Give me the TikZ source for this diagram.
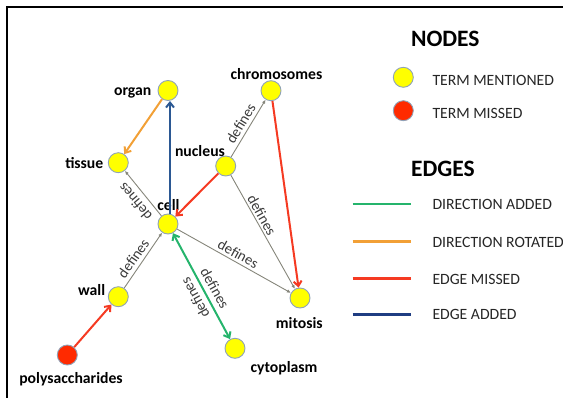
\documentclass[tikz,border=0pt]{standalone}
\usepackage{fontspec}
\setmainfont{Carlito}
\usetikzlibrary{arrows.meta}
\definecolor{termyellow}{HTML}{FFFF00}
\definecolor{termred}{HTML}{FF2A00}
\definecolor{ringc}{HTML}{8FA2B8}
\definecolor{edgegray}{HTML}{85857A}
\definecolor{defgray}{HTML}{3A3A3A}
\definecolor{egreen}{HTML}{25B46C}
\definecolor{eorange}{HTML}{F2A036}
\definecolor{ered}{HTML}{F53A22}
\definecolor{eblue}{HTML}{2B5893}
\definecolor{lblue}{HTML}{1F3D82}
\begin{document}
\begin{tikzpicture}[x=1pt,y=-1pt,
  term/.style={circle,fill=termyellow,draw=ringc,line width=0.9pt,minimum size=20pt,inner sep=0pt},
  miss/.style={term,fill=termred},
  lbl/.style={font=\fontsize{15.7}{15.7}\selectfont\bfseries,inner sep=0pt,anchor=base},
  deflbl/.style={font=\fontsize{14.8}{14.8}\selectfont,text=defgray,inner sep=0pt},
  title/.style={font=\fontsize{23.5}{23.5}\selectfont\bfseries,inner sep=0pt,anchor=base},
  legtxt/.style={font=\fontsize{15.7}{15.7}\selectfont,inner sep=0pt,anchor=base west,text=black!85},
  grayedge/.style={draw=edgegray,line width=0.9pt,-{Latex[length=4pt,width=3.5pt]}},
  coledge/.style={line width=2pt,-{Straight Barb[length=5pt,width=8pt]}},
  legline/.style={line width=2.6pt}]
\useasboundingbox (0,0) rectangle (563,398);
\draw[line width=2pt] (7,398) -- (7,7.5) -- (563,7.5);

% graph nodes
\node[term] (organ) at (168,90.5) {};
\node[term] (tissue) at (118.3,162.7) {};
\node[term] (nucleus) at (225.7,166) {};
\node[term] (chrom) at (271,90.7) {};
\node[term] (cell) at (168,224) {};
\node[term] (wall) at (118.3,296.7) {};
\node[term] (mitosis) at (300,298) {};
\node[term] (cyto) at (235,348.3) {};
\node[miss] (poly) at (67.3,355) {};

% labels
\node[lbl] (organ-l) at (132.7,96) {organ};
\node[lbl] (tissue-l) at (84.3,168.3) {tissue};
\node[lbl] (nucleus-l) at (200,156.7) {nucleus};
\node[lbl] (chrom-l) at (276.5,80) {chromosomes};
\node[lbl] (cell-l) at (168.5,211) {cell};
\node[lbl] (wall-l) at (91.7,295.7) {wall};
\node[lbl] (mitosis-l) at (299.3,328.3) {mitosis};
\node[lbl] (cyto-l) at (284,372.7) {cytoplasm};
\node[lbl] (poly-l) at (71,384) {polysaccharides};

% gray edges
\draw[grayedge] (cell) -- (tissue);
\draw[grayedge] (wall) -- (cell);
\draw[grayedge] (nucleus) -- (chrom);
\draw[grayedge] (nucleus) -- (mitosis);
\draw[grayedge] (cell) -- (mitosis);

% coloured edges
\draw[coledge,draw=eorange] (organ) -- (tissue);
\draw[coledge,draw=eblue] ([xshift=2pt]cell.north) -- ([xshift=2pt]organ.south);
\draw[coledge,draw=ered] (nucleus) -- (cell);
\draw[coledge,draw=ered] (chrom) -- (mitosis);
\draw[coledge,draw=ered] (poly) -- (wall);
\draw[coledge,draw=egreen,{Straight Barb[length=5pt,width=8pt]}-{Straight Barb[length=5pt,width=8pt]}] (cell) -- (cyto);

% defines labels
\node[deflbl,rotate=130] (d1) at (135,201.7) {defines};
\node[deflbl,rotate=55] (d2) at (133.3,258.3) {defines};
\node[deflbl,rotate=59] (d3) at (240.7,123.3) {defines};
\node[deflbl,rotate=-60.7] (d4) at (262,215) {defines};
\node[deflbl,rotate=-28.8] (d5) at (238.3,254) {defines};
\node[deflbl,rotate=-61] (d6) at (215,288.3) {defines};
\node[deflbl,rotate=119] (d7) at (195,298.3) {defines};

% legend
\node[title] (nodes-t) at (445.3,46.7) {NODES};
\node[term] (leg-y) at (403.3,77.3) {};
\node[miss] (leg-r) at (403.3,110.7) {};
\node[legtxt] (leg-y-t) at (432.3,85.7) {TERM MENTIONED};
\node[legtxt] (leg-r-t) at (432.3,119) {TERM MISSED};

\node[title] (edges-t) at (443,176.7) {EDGES};
\coordinate (g1) at (352.7,204); \coordinate (g2) at (410.7,204);
\coordinate (o1) at (352.7,241.7); \coordinate (o2) at (410.7,241.7);
\coordinate (r1) at (352.7,278.3); \coordinate (r2) at (410.7,278.3);
\coordinate (b1) at (352.7,314.3); \coordinate (b2) at (410.7,314.3);
\draw[legline,egreen] (g1) -- (g2);
\draw[legline,eorange] (o1) -- (o2);
\draw[legline,ered] (r1) -- (r2);
\draw[legline,lblue] (b1) -- (b2);
\node[legtxt] (g-t) at (432.3,210) {DIRECTION ADDED};
\node[legtxt] (o-t) at (432.3,247.7) {DIRECTION ROTATED};
\node[legtxt] (r-t) at (432.3,284.3) {EDGE MISSED};
\node[legtxt] (b-t) at (432.3,320) {EDGE ADDED};
\end{tikzpicture}
\end{document}
